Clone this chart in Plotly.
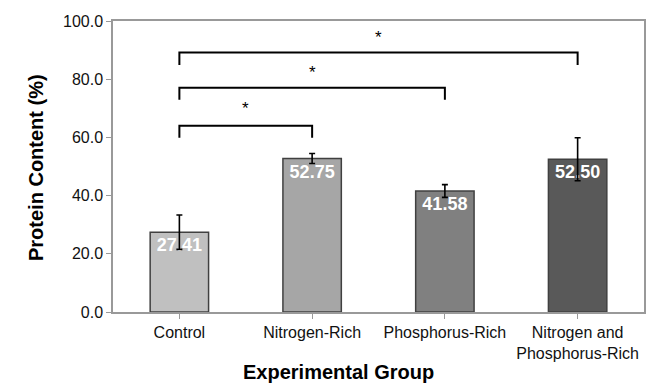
import plotly.graph_objects as go

categories = ["Control", "Nitrogen-Rich", "Phosphorus-Rich", "Nitrogen and<br>Phosphorus-Rich"]
values = [27.41, 52.75, 41.58, 52.50]
errors = [5.9, 1.7, 2.2, 7.4]
bar_colors = ["#c0c0c0", "#a6a6a6", "#808080", "#595959"]
labels = ["27.41", "52.75", "41.58", "52.50"]

# significance brackets: (left index, right index, bar height, leg bottom, star height)
bracket_left = [0, 0, 0]
bracket_right = [1, 2, 3]
bracket_top = [64.0, 77.1, 89.2]
bracket_leg = [59.9, 72.9, 84.9]
star_y = [70.9, 83.2, 95.2]

FONT = "Liberation Sans, Arial, sans-serif"
xs = list(range(len(categories)))

W, H = 654, 385
L, R, T, B = 113, 10, 21, 73
PW, PH = W - L - R, H - T - B

fig = go.Figure()
fig.add_trace(go.Bar(
    x=xs, y=values,
    width=0.44,
    marker=dict(color=bar_colors, line=dict(color="#404040", width=1.5)),
    error_y=dict(type="data", array=errors, visible=True, color="#000000", thickness=1.6, width=3),
    text=labels, textposition="inside", insidetextanchor="end",
    textfont=dict(family=FONT, size=18, color="#ffffff", weight="bold"),
    constraintext="none",
    cliponaxis=False,
    hoverinfo="skip",
))

for l, r, t, b in zip(bracket_left, bracket_right, bracket_top, bracket_leg):
    fig.add_shape(type="path",
                  path=f"M {l} {b} L {l} {t} L {r} {t} L {r} {b}",
                  xref="x", yref="y", line=dict(color="#000000", width=2))

for l, r, s in zip(bracket_left, bracket_right, star_y):
    fig.add_annotation(x=(l + r) / 2, y=s, text="*", showarrow=False,
                       xref="x", yref="y", yshift=-3,
                       font=dict(family=FONT, size=17, color="#000000"))

# x-axis title (centred at ~338 px, ~372 px from top)
fig.add_annotation(x=(338 - L) / PW, y=-(372 - (T + PH)) / PH, xref="paper", yref="paper",
                   text="<b>Experimental Group</b>", showarrow=False,
                   font=dict(family=FONT, size=20, color="#000000"),
                   xanchor="center", yanchor="middle")
# y-axis title (centred at ~36 px from left)
fig.add_annotation(x=-(L - 36) / PW, y=(T + PH - 168) / PH, xref="paper", yref="paper",
                   text="<b>Protein Content (%)</b>", showarrow=False, textangle=-90,
                   font=dict(family=FONT, size=20, color="#000000"),
                   xanchor="center", yanchor="middle")

fig.update_layout(
    width=W, height=H,
    margin=dict(l=L, r=R, t=T, b=B, autoexpand=False),
    plot_bgcolor="#ffffff", paper_bgcolor="#ffffff",
    showlegend=False,
    font=dict(family=FONT, size=16, color="#111111"),
    xaxis=dict(
        range=[-0.5, 3.5], tickmode="array", tickvals=xs, ticktext=categories,
        showline=True, linecolor="#999999", linewidth=1.5, mirror=True,
        ticks="outside", ticklen=5, tickcolor="#999999",
        showgrid=False, zeroline=False, automargin=False,
        tickfont=dict(family=FONT, size=16, color="#111111"),
    ),
    yaxis=dict(
        range=[0, 100], dtick=20, tickformat=".1f",
        showline=True, linecolor="#999999", linewidth=1.5, mirror=True,
        ticks="outside", ticklen=5, tickcolor="#999999",
        showgrid=False, zeroline=False, automargin=False,
        tickfont=dict(family=FONT, size=16, color="#111111"),
    ),
)

fig.write_html("out.html", config={"displayModeBar": False})
# remove the browser's default body margin so the figure sits at the page origin
with open("out.html", encoding="utf-8") as f:
    html = f.read()
html = html.replace("<head>", "<head><style>html,body{margin:0;padding:0;overflow:hidden}</style>", 1)
with open("out.html", "w", encoding="utf-8") as f:
    f.write(html)
